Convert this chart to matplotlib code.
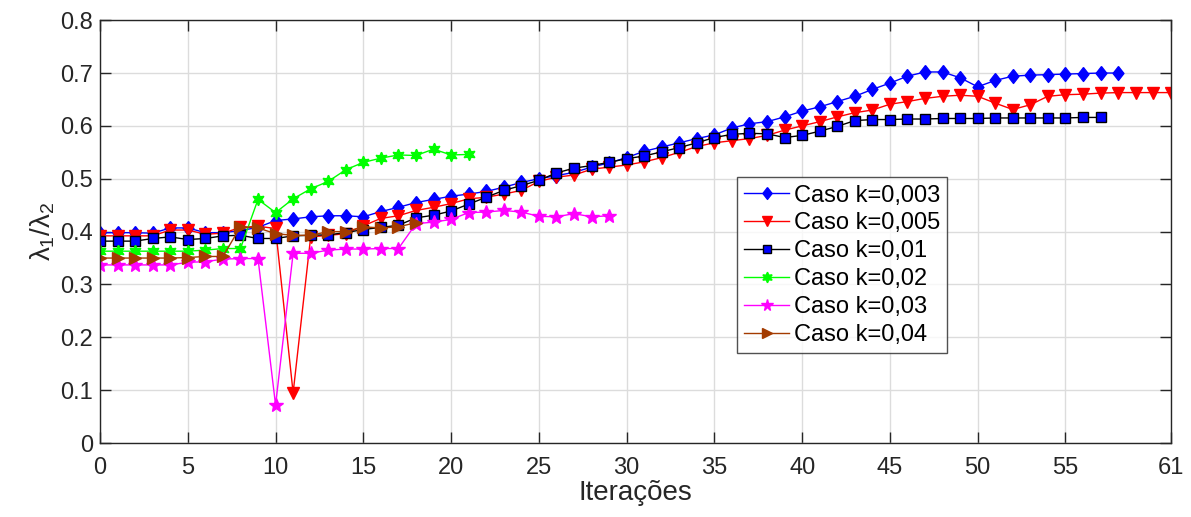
import numpy as np
import matplotlib.pyplot as plt

plt.rcParams['font.family'] = ['Liberation Sans', 'DejaVu Sans']
plt.rcParams['mathtext.fontset'] = 'custom'
plt.rcParams['mathtext.rm'] = 'Liberation Sans'
plt.rcParams['mathtext.it'] = 'Liberation Sans'

# lambda1/lambda2 per iteration for each k
k003 = [0.398, 0.398, 0.398, 0.397, 0.407, 0.407, 0.398, 0.398, 0.402, 0.408,
        0.421, 0.424, 0.428, 0.430, 0.430, 0.428, 0.438, 0.446, 0.455, 0.461,
        0.467, 0.471, 0.476, 0.484, 0.493, 0.500, 0.506, 0.512, 0.522, 0.530,
        0.540, 0.552, 0.560, 0.568, 0.576, 0.583, 0.596, 0.604, 0.608, 0.617,
        0.628, 0.636, 0.646, 0.656, 0.669, 0.681, 0.694, 0.702, 0.702, 0.691,
        0.674, 0.686, 0.694, 0.696, 0.697, 0.698, 0.699, 0.700, 0.700]
k005 = [0.392, 0.392, 0.392, 0.392, 0.403, 0.403, 0.395, 0.397, 0.408, 0.410,
        0.406, 0.095, 0.390, 0.393, 0.396, 0.411, 0.425, 0.430, 0.440, 0.446,
        0.453, 0.462, 0.465, 0.471, 0.478, 0.495, 0.503, 0.507, 0.518, 0.522,
        0.526, 0.532, 0.540, 0.550, 0.561, 0.568, 0.572, 0.576, 0.582, 0.592,
        0.600, 0.608, 0.617, 0.625, 0.630, 0.641, 0.646, 0.652, 0.656, 0.658,
        0.656, 0.643, 0.631, 0.640, 0.656, 0.659, 0.660, 0.662, 0.663, 0.663,
        0.663, 0.663]
k01 = [0.382, 0.382, 0.382, 0.387, 0.390, 0.385, 0.387, 0.392, 0.393, 0.387,
       0.387, 0.392, 0.393, 0.394, 0.398, 0.404, 0.408, 0.412, 0.426, 0.431,
       0.439, 0.452, 0.465, 0.478, 0.487, 0.497, 0.511, 0.520, 0.525, 0.531,
       0.538, 0.543, 0.551, 0.559, 0.568, 0.578, 0.584, 0.586, 0.585, 0.578,
       0.582, 0.590, 0.599, 0.610, 0.612, 0.612, 0.613, 0.613, 0.614, 0.614,
       0.614, 0.615, 0.615, 0.615, 0.615, 0.615, 0.616, 0.616]
k02 = [0.363, 0.363, 0.363, 0.363, 0.363, 0.363, 0.365, 0.368, 0.368, 0.461,
       0.436, 0.462, 0.481, 0.495, 0.517, 0.531, 0.539, 0.545, 0.544, 0.556,
       0.545, 0.546]
k03 = [0.337, 0.337, 0.337, 0.337, 0.337, 0.342, 0.343, 0.348, 0.349, 0.349,
       0.072, 0.359, 0.359, 0.365, 0.367, 0.367, 0.368, 0.368, 0.415, 0.418,
       0.423, 0.436, 0.437, 0.440, 0.437, 0.429, 0.428, 0.434, 0.428, 0.430]
k04 = [0.350, 0.350, 0.350, 0.350, 0.350, 0.351, 0.353, 0.353, 0.409, 0.407,
       0.396, 0.393, 0.393, 0.400, 0.400, 0.409, 0.407, 0.409, 0.417]

xticks = [0, 5, 10, 15, 20, 25, 30, 35, 40, 45, 50, 55, 61]

# slightly tall diamond
diamond = [(0, 1), (0.78, 0), (0, -1), (-0.78, 0), (0, 1)]

fig = plt.figure(figsize=(11.91, 5.17), dpi=100)
ax = fig.add_axes([0.084, 0.143, 0.899, 0.818])

ax.plot(np.arange(len(k003)), k003, '-', marker=diamond, color='b', lw=1,
        ms=10, mfc='b', mec='b', label='Caso k=0,003')
ax.plot(np.arange(len(k005)), k005, '-v', color='r', lw=1, ms=9,
        mfc='r', mec='r', label='Caso k=0,005')
ax.plot(np.arange(len(k01)), k01, '-s', color='k', lw=1, ms=6.5,
        mfc='b', mec='k', label='Caso k=0,01')
ax.plot(np.arange(len(k02)), k02, '-', marker=(6, 1, 0), color='#00ff00', lw=1,
        ms=9, mfc='#00ff00', mec='#00ff00', label='Caso k=0,02')
ax.plot(np.arange(len(k03)), k03, '-*', color='#ff00ff', lw=1, ms=10,
        mfc='#ff00ff', mec='#ff00ff', label='Caso k=0,03')
ax.plot(np.arange(len(k04)), k04, '->', color='#a33b00', lw=1, ms=9,
        mfc='#a33b00', mec='#a33b00', label='Caso k=0,04')

ax.set_xlim(0, 61)
ax.set_ylim(0, 0.8)
ax.set_xticks(xticks)
ax.set_yticks(np.arange(0, 0.81, 0.1))
ax.set_yticklabels(['0', '0.1', '0.2', '0.3', '0.4', '0.5', '0.6', '0.7', '0.8'])
ax.tick_params(direction='in', length=8, width=1, labelsize=17, top=True,
               right=True, colors='#262626', labelcolor='#262626', pad=5)
ax.tick_params(axis='x', pad=10)
ax.grid(True, color='#dcdcdc', lw=1)
ax.set_axisbelow(True)
for s in ax.spines.values():
    s.set_color('#262626')
    s.set_linewidth(1)

ax.set_xlabel('Iterações', fontsize=20, color='#262626', labelpad=1)
ax.set_ylabel(r'$\lambda_1/\lambda_2$', fontsize=20, color='#262626', labelpad=2)

leg = ax.legend(loc='upper left', bbox_to_anchor=(0.595, 0.628), fontsize=17,
                frameon=True, fancybox=False, edgecolor='#262626',
                borderpad=0.3, labelspacing=0.25, handlelength=1.9,
                handletextpad=0.2, borderaxespad=0, markerscale=0.85)
leg.get_frame().set_linewidth(1)

fig.savefig('out.png', dpi=100)
